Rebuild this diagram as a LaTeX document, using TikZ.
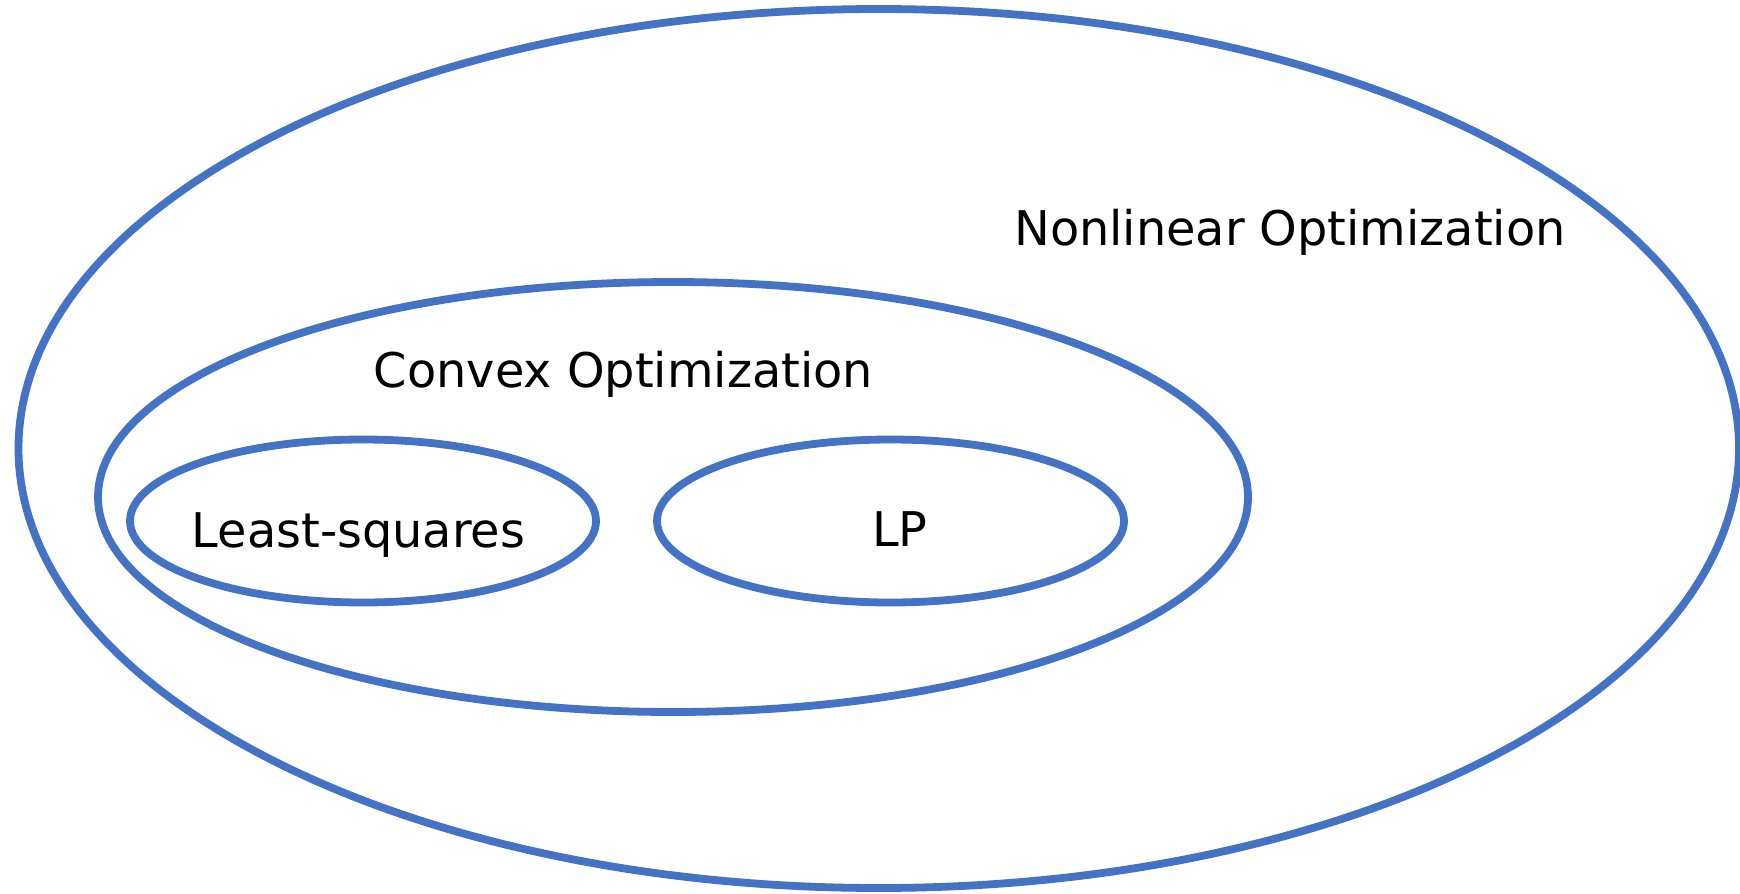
\documentclass[tikz,border=0pt]{standalone}
\usepackage{fontspec}
\setmainfont{DejaVu Sans}
\usetikzlibrary{shapes.geometric}
\definecolor{setblue}{HTML}{4472C4}
\tikzset{
  setring/.style={ellipse, draw=setblue, line width=7.8pt, inner sep=0pt, outer sep=0pt},
  setlabel/.style={anchor=base, inner sep=0pt, font=\fontsize{47.8}{56}\selectfont, text=black}
}
\begin{document}
\begin{tikzpicture}[x=1pt, y=-1pt]
  \useasboundingbox (0,0) rectangle (1740,894);
  % nested problem classes
  \node[setring, minimum width=1720.5pt, minimum height=879pt] (nonlinear) at (878.75,448.5) {};
  \node[setring, minimum width=1150pt, minimum height=430pt] (convex) at (673,497) {};
  \node[setring, minimum width=466pt, minimum height=163pt] (lsq) at (363,521) {};
  \node[setring, minimum width=467pt, minimum height=163pt] (lp) at (890.5,521) {};
  % class names
  \node[setlabel] (nonlineartext) at (1290,245) {Nonlinear Optimization};
  \node[setlabel] (convextext) at (623.5,387) {Convex Optimization};
  \node[setlabel] (lsqtext) at (358.5,547.3) {Least-squares};
  \node[setlabel] (lptext) at (900,546.7) {LP};
\end{tikzpicture}
\end{document}
